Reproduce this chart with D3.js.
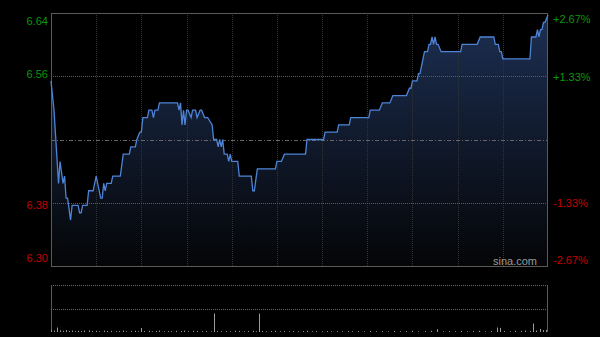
<!DOCTYPE html>
<html>
<head>
<meta charset="utf-8">
<script src="https://cdn.jsdelivr.net/npm/d3@7"></script>
<style>
  html, body { margin: 0; padding: 0; background: #000; }
  #chart text { font-family: Arial, "Liberation Sans", sans-serif; font-size: 11px; }
</style>
</head>
<body>
<div id="chart"></div>
<script>
// Intraday minute line, HK session 09:30-12:00 / 13:00-16:00 = 330 minutes
var prevClose = 6.47;
var minutes = [0, 2, 5, 6, 8, 9, 10, 11, 13, 14, 18, 19, 20, 21, 24, 25, 28, 30, 33, 34,
    35, 36, 37, 40, 41, 46, 48, 52, 53, 56, 57, 59, 60, 61, 64, 65, 67, 68, 69, 71,
    72, 84, 85, 86, 87, 88, 89, 90, 91, 93, 94, 96, 97, 99, 100, 102, 104, 107, 108, 110,
    111, 112, 113, 114, 115, 117, 118, 119, 120, 124, 125, 133, 134, 135, 137, 149, 150, 153, 155, 169,
    170, 181, 182, 190, 191, 198, 199, 211, 212, 218, 220, 225, 227, 236, 238, 239, 240, 243, 244, 245,
    248, 250, 251, 252, 253, 254, 255, 256, 257, 259, 272, 273, 283, 285, 294, 295, 297, 298, 299, 300,
    318, 319, 322, 323, 324, 325, 326, 327, 328, 330];
var prices = [6.55, 6.51, 6.41, 6.44, 6.41, 6.42, 6.39, 6.39, 6.36, 6.38, 6.38, 6.37, 6.37, 6.38, 6.38, 6.40, 6.40, 6.42, 6.39, 6.39,
    6.41, 6.40, 6.41, 6.41, 6.42, 6.42, 6.45, 6.45, 6.46, 6.46, 6.47, 6.48, 6.48, 6.50, 6.50, 6.51, 6.51, 6.50, 6.51, 6.51,
    6.52, 6.52, 6.51, 6.52, 6.49, 6.51, 6.49, 6.51, 6.51, 6.50, 6.51, 6.51, 6.50, 6.51, 6.51, 6.50, 6.50, 6.49, 6.47, 6.47,
    6.46, 6.47, 6.46, 6.47, 6.45, 6.45, 6.44, 6.45, 6.44, 6.44, 6.42, 6.42, 6.40, 6.40, 6.43, 6.43, 6.44, 6.44, 6.45, 6.45,
    6.47, 6.47, 6.48, 6.48, 6.49, 6.49, 6.50, 6.50, 6.51, 6.51, 6.52, 6.52, 6.53, 6.53, 6.54, 6.54, 6.55, 6.55, 6.56, 6.56,
    6.59, 6.59, 6.60, 6.60, 6.61, 6.60, 6.61, 6.60, 6.60, 6.59, 6.59, 6.60, 6.60, 6.61, 6.61, 6.60, 6.60, 6.59, 6.59, 6.58,
    6.58, 6.61, 6.61, 6.62, 6.61, 6.62, 6.62, 6.63, 6.63, 6.64];

// Volume bars (shares)
var volMinutes = [0, 2, 4, 6, 8, 10, 12, 14, 16, 18, 20, 22, 25, 27, 30, 32, 35, 37, 40, 43,
    45, 48, 50, 53, 56, 58, 60, 62, 65, 67, 70, 72, 75, 78, 80, 83, 86, 88, 91, 94,
    97, 100, 103, 106, 108, 110, 113, 116, 119, 122, 125, 128, 131, 134, 136, 138, 140, 143, 146, 149,
    152, 155, 158, 161, 164, 167, 170, 173, 176, 180, 183, 186, 190, 193, 197, 200, 204, 208, 212, 216,
    220, 224, 228, 232, 236, 240, 244, 248, 252, 256, 260, 264, 268, 272, 276, 280, 284, 288, 292, 296,
    298, 301, 305, 308, 312, 315, 318, 320, 322, 325, 327, 329];
var volShares = [90000, 60000, 190000, 70000, 50000, 80000, 40000, 60000, 30000, 50000, 40000, 60000, 70000, 40000, 50000, 30000, 60000, 40000, 50000, 30000,
    40000, 60000, 30000, 40000, 50000, 30000, 170000, 40000, 50000, 30000, 40000, 60000, 30000, 40000, 30000, 50000, 40000, 60000, 30000, 50000,
    40000, 30000, 40000, 30000, 790000, 40000, 30000, 40000, 30000, 50000, 40000, 30000, 40000, 50000, 30000, 780000, 40000, 30000, 40000, 50000,
    30000, 40000, 30000, 40000, 30000, 40000, 50000, 30000, 40000, 30000, 40000, 30000, 40000, 30000, 40000, 30000, 40000, 30000, 40000, 30000,
    40000, 30000, 40000, 30000, 40000, 50000, 30000, 40000, 50000, 120000, 30000, 40000, 30000, 40000, 30000, 40000, 50000, 30000, 40000, 190000,
    170000, 40000, 30000, 50000, 40000, 60000, 40000, 360000, 60000, 130000, 80000, 90000];

var priceTicks = [6.30, 6.38, 6.56, 6.64];
var pctTicks = ["-2.67%", "-1.33%", "+1.33%", "+2.67%"];
var timeGrid = [30, 60, 90, 120, 150, 180, 210, 240, 270, 300];

var W = 600, H = 337;
var plotLeft = 51, plotRight = 548, plotTop = 13, plotBottom = 266;
var volTop = 285, volBottom = 332;

var svg = d3.select('#chart').append('svg')
    .attr('width', W).attr('height', H);

svg.append('rect').attr('width', W).attr('height', H).attr('fill', '#000');

var x = d3.scaleLinear().domain([0, 330]).range([plotLeft, plotRight]);
var y = d3.scaleLinear()
    .domain([prevClose * (1 - 0.0267), prevClose * (1 + 0.0267)])
    .range([plotBottom, plotTop]);
var yv = d3.scaleLinear().domain([0, 2000000]).range([volBottom, volTop]);

// gradient under the line
var grad = svg.append('defs').append('linearGradient')
    .attr('id', 'area-fill')
    .attr('gradientUnits', 'userSpaceOnUse')
    .attr('x1', 0).attr('y1', plotTop).attr('x2', 0).attr('y2', plotBottom);
grad.append('stop').attr('offset', '0%').attr('stop-color', '#1d2f52');
grad.append('stop').attr('offset', '100%').attr('stop-color', '#040507');

var data = minutes.map(function(m, i) { return [m, prices[i]]; });

svg.append('path')
    .attr('d', d3.area().x(function(d) { return x(d[0]); })
        .y0(plotBottom).y1(function(d) { return y(d[1]); })(data))
    .attr('fill', 'url(#area-fill)');

// vertical grid
svg.append('g').selectAll('line').data(timeGrid).join('line')
    .attr('x1', function(d) { return Math.round(x(d)) + 0.5; })
    .attr('x2', function(d) { return Math.round(x(d)) + 0.5; })
    .attr('y1', plotTop).attr('y2', plotBottom)
    .attr('stroke', '#333').attr('stroke-dasharray', '1,1');

// horizontal grid at +-1.33%
svg.append('g').selectAll('line').data([-0.01335, 0.01335]).join('line')
    .attr('x1', plotLeft).attr('x2', plotRight)
    .attr('y1', function(d) { return Math.round(y(prevClose * (1 + d))) + 0.5; })
    .attr('y2', function(d) { return Math.round(y(prevClose * (1 + d))) + 0.5; })
    .attr('stroke', '#5c5c5c').attr('stroke-dasharray', '1,1');

svg.append('line')
    .attr('x1', plotLeft).attr('x2', plotRight)
    .attr('y1', Math.round(y(prevClose)) + 0.5).attr('y2', Math.round(y(prevClose)) + 0.5)
    .attr('stroke', '#666').attr('stroke-dasharray', '4,2,1,2');

// frame
svg.append('rect')
    .attr('x', plotLeft + 0.5).attr('y', plotTop + 0.5)
    .attr('width', plotRight - plotLeft - 1).attr('height', plotBottom - plotTop)
    .attr('fill', 'none').attr('stroke', '#5a5a5a');

// price line
svg.append('path')
    .attr('d', d3.line().x(function(d) { return x(d[0]); })
        .y(function(d) { return y(d[1]); })(data))
    .attr('fill', 'none')
    .attr('stroke', '#4d84d6')
    .attr('stroke-width', 1.3);

// left price axis
var axL = svg.append('g')
    .attr('transform', 'translate(' + (plotLeft - 3) + ',0)')
    .call(d3.axisLeft(y).tickValues(priceTicks).tickSize(0).tickPadding(0)
        .tickFormat(d3.format('.2f')));
axL.select('.domain').remove();
axL.selectAll('text')
    .attr('fill', function(d) { return d > prevClose ? '#0c960c' : '#c40000'; })
    .attr('dy', function(d) { return d === 6.64 ? '0.85em' : (d === 6.30 ? '-0.2em' : '0.32em'); });

// right percent axis
var pctScale = d3.scaleLinear().domain([-2.67, 2.67]).range([plotBottom, plotTop]);
var axR = svg.append('g')
    .attr('transform', 'translate(' + (plotRight + 5) + ',0)')
    .call(d3.axisRight(pctScale).tickValues([-2.67, -1.33, 1.33, 2.67]).tickSize(0).tickPadding(0)
        .tickFormat(function(d, i) { return pctTicks[i]; }));
axR.select('.domain').remove();
axR.selectAll('text')
    .attr('fill', function(d) { return d > 0 ? '#0c960c' : '#c40000'; })
    .attr('dy', function(d) { return d === 2.67 ? '0.85em' : (d === -2.67 ? '-0.2em' : '0.32em'); });

// watermark
svg.append('text')
    .attr('x', plotRight - 11).attr('y', plotBottom - 1)
    .attr('text-anchor', 'end')
    .attr('fill', '#9a9a9a')
    .text('sina.com');

// volume panel
svg.append('line')
    .attr('x1', plotLeft).attr('x2', plotRight).attr('y1', volTop + 0.5).attr('y2', volTop + 0.5)
    .attr('stroke', '#666').attr('stroke-dasharray', '1,1');
svg.append('line')
    .attr('x1', plotLeft).attr('x2', plotRight)
    .attr('y1', Math.round(yv(1000000)) + 0.5).attr('y2', Math.round(yv(1000000)) + 0.5)
    .attr('stroke', '#666').attr('stroke-dasharray', '1,1');
svg.append('g').selectAll('line').data([plotLeft + 0.5, plotRight - 0.5]).join('line')
    .attr('x1', function(d) { return d; }).attr('x2', function(d) { return d; })
    .attr('y1', volTop).attr('y2', volBottom)
    .attr('stroke', '#5a5a5a');

svg.append('g').selectAll('line').data(volMinutes).join('line')
    .attr('x1', function(d) { return Math.round(x(d)) + 0.5; })
    .attr('x2', function(d) { return Math.round(x(d)) + 0.5; })
    .attr('y1', volBottom)
    .attr('y2', function(d, i) { return yv(volShares[i]); })
    .attr('stroke', '#9a9a9a');
</script>
</body>
</html>
